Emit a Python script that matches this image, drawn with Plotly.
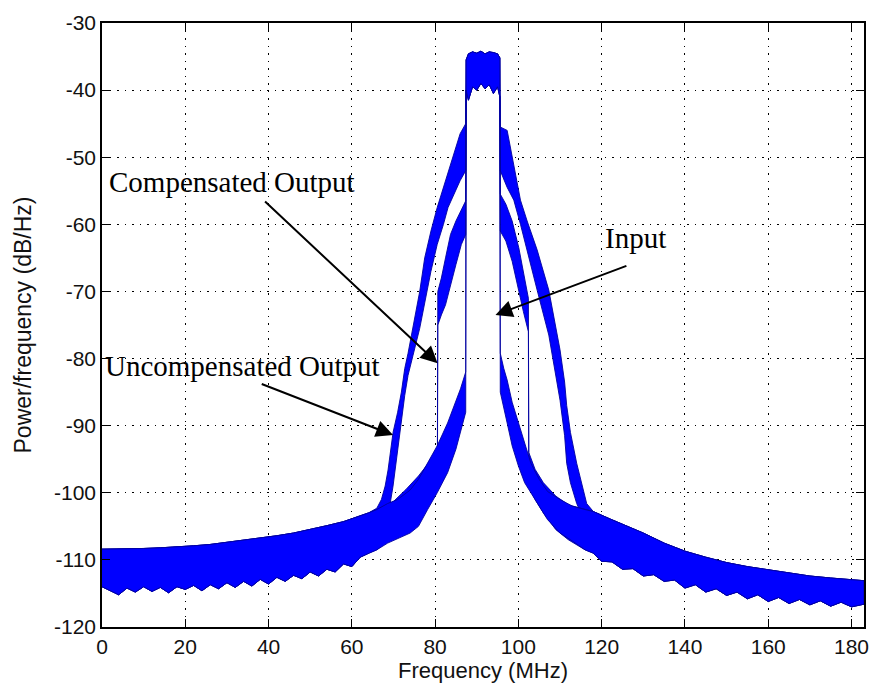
import plotly.graph_objects as go

# ---------------- data ----------------
# shared noise floor, left part: upper envelope (MHz, dB/Hz)
floor_left_f = [0, 3, 6, 10, 14, 18, 22, 26, 30, 34, 38, 42, 46, 50, 54, 58, 62]
floor_left_hi = [-108.4, -108.4, -108.4, -108.3, -108.2, -108.1, -107.9, -107.7, -107.4,
                 -107.1, -106.8, -106.4, -106.0, -105.5, -104.9, -104.3, -103.5]
# shared noise floor, left part: lower (noisy) envelope
floor_left_lo_f = [0, 2, 4, 6, 8, 10, 12, 14, 16, 18, 20, 22, 24, 26, 28, 30,
                   32, 34, 36, 38, 40, 42, 44, 46, 48, 50, 52, 54, 56, 58, 60, 62]
floor_left_lo = [-114.0, -114.6, -115.2, -114.2, -114.8, -114.0, -114.7, -114.1, -114.9, -114.0,
                 -114.4, -113.8, -114.6, -113.7, -114.3, -113.4, -114.1, -113.2, -113.9, -112.9,
                 -113.6, -112.6, -113.2, -112.3, -112.8, -111.8, -112.4, -111.4, -111.8, -110.6,
                 -111.0, -109.6]

# shared noise floor, right part
floor_right_f = [118, 122, 126, 130, 135, 140, 145, 150, 155, 160, 165, 170, 175, 180, 183]
floor_right_hi = [-102.8, -103.9, -105.0, -106.0, -107.5, -108.7, -109.6, -110.4, -111.0,
                  -111.5, -112.0, -112.4, -112.7, -113.0, -113.1]
floor_right_lo_f = [118, 120, 122.5, 125, 127.5, 130, 132.5, 135, 137.5, 140, 142.5, 145, 147.5,
                    150, 152.5, 155, 157.5, 160, 162.5, 165, 167.5, 170, 172.5, 175, 177.5, 180, 183]
floor_right_lo = [-109.0, -110.2, -110.3, -111.4, -111.3, -112.4, -112.2, -113.2, -113.0, -114.2,
                  -113.7, -114.8, -114.3, -115.3, -114.8, -115.8, -115.2, -116.2, -115.6, -116.5,
                  -115.9, -116.7, -116.1, -116.9, -116.3, -117.0, -116.6]

# shared in-band top
top_f = [87.45, 88.0, 89.0, 90.0, 91.0, 92.0, 93.0, 94.0, 95.0, 95.55]
top_hi = [-35.5, -34.6, -34.3, -34.5, -34.2, -34.6, -34.3, -34.4, -34.6, -35.2]
top_lo = [-40.0, -41.5, -39.5, -40.0, -39.0, -39.8, -39.2, -40.5, -39.5, -41.0]

# Input
in_left_f = [64, 66, 68.6, 71, 74, 76, 78.2, 80.5, 83, 85, 86.1, 87.35]
in_left_hi = [-103.0, -102.5, -101.6, -101.0, -99.6, -98.0, -95.6, -93.0, -89.6, -86.5, -84.5, -82.0]
in_left_lo = [-109.0, -108.5, -107.5, -106.8, -106.0, -105.0, -102.5, -100.0, -97.0, -93.5, -91.0, -88.0]
in_right_f = [95.65, 96.5, 97.3, 98.5, 100.0, 101.5, 103.0, 105.0, 107.0, 110.0, 113.0, 116.0]
in_right_hi = [-79.2, -81.5, -83.2, -86.5, -89.6, -92.8, -95.6, -98.0, -99.8, -101.0, -102.0, -102.5]
in_right_lo = [-85.0, -87.5, -89.6, -93.0, -96.0, -98.5, -100.0, -102.0, -104.0, -106.0, -107.2, -108.5]

# Compensated output
comp_left_f = [64, 66, 70, 73, 76, 78.5, 80.55, 80.65, 81.5, 82.5, 83.7, 85.0, 86.3, 87.35]
comp_left_hi = [-103.0, -102.5, -101.3, -99.5, -97.5, -95.5, -93.5, -70.0, -68.0, -65.0, -61.5, -59.5, -57.8, -56.5]
comp_left_lo = [-109.0, -108.5, -106.5, -105.0, -103.0, -101.0, -99.0, -75.0, -73.5, -72.0, -69.0, -66.0, -63.0, -61.5]
comp_right_f = [95.65, 97.0, 98.5, 100.1, 101.2, 102.4, 102.5, 104.0, 106.0, 109.0, 112.0, 116.0]
comp_right_hi = [-55.5, -57.0, -59.5, -63.5, -67.0, -71.0, -94.0, -96.5, -98.5, -100.5, -101.8, -102.5]
comp_right_lo = [-61.0, -62.5, -65.5, -69.8, -73.0, -76.0, -99.0, -101.0, -103.0, -105.5, -107.0, -108.5]

# Uncompensated output
unc_left_f = [64, 66, 67.1, 68.0, 68.7, 69.9, 71.0, 71.9, 72.7, 73.5, 74.7, 76.3, 77.5, 79.0,
              80.5, 82.0, 83.1, 84.5, 86.0, 87.35]
unc_left_hi = [-103.0, -102.3, -101.0, -99.0, -96.6, -91.0, -88.0, -85.0, -81.5, -79.2, -75.3,
               -70.0, -65.0, -61.0, -57.5, -54.5, -52.0, -49.5, -46.5, -45.0]
unc_left_lo = [-109.0, -108.0, -107.0, -105.5, -103.5, -99.0, -94.0, -89.5, -85.5, -82.5, -79.5,
               -75.5, -71.5, -67.0, -63.0, -60.0, -57.5, -55.5, -53.5, -52.0]
unc_right_f = [95.65, 97.3, 98.9, 100.5, 102.1, 104.5, 107.3, 110.0, 111.1, 111.6, 112.5, 114.0, 116.4]
unc_right_hi = [-45.5, -46.0, -51.4, -56.4, -59.5, -63.8, -69.8, -78.7, -83.5, -87.0, -91.0, -95.6, -101.6]
unc_right_lo = [-52.0, -54.5, -56.4, -60.0, -63.8, -69.8, -76.5, -86.2, -91.5, -95.6, -98.5, -101.6, -105.0]

x_ticks = [0, 20, 40, 60, 80, 100, 120, 140, 160, 180]
y_ticks = [-120, -110, -100, -90, -80, -70, -60, -50, -40, -30]

BLUE = "#0000ff"


def band(left_f, left_hi, left_lo, right_f, right_hi, right_lo):
    f_hi = floor_left_f + left_f + top_f + right_f + floor_right_f
    hi = floor_left_hi + left_hi + top_hi + right_hi + floor_right_hi
    f_lo = floor_left_lo_f + left_f + top_f + right_f + floor_right_lo_f
    lo = floor_left_lo + left_lo + top_lo + right_lo + floor_right_lo
    return f_hi + f_lo[::-1], hi + lo[::-1]


fig = go.Figure()
for name, parts in [
    ("Uncompensated Output", (unc_left_f, unc_left_hi, unc_left_lo, unc_right_f, unc_right_hi, unc_right_lo)),
    ("Compensated Output", (comp_left_f, comp_left_hi, comp_left_lo, comp_right_f, comp_right_hi, comp_right_lo)),
    ("Input", (in_left_f, in_left_hi, in_left_lo, in_right_f, in_right_hi, in_right_lo)),
]:
    xs, ys = band(*parts)
    fig.add_trace(go.Scatter(x=xs, y=ys, mode="lines", fill="toself", fillcolor=BLUE,
                             line=dict(color="#0000a0", width=0.9), name=name,
                             hoverinfo="skip"))

serif = "Liberation Serif, Times New Roman, serif"
labels = [
    ("Compensated Output", 1.3, -53.7, 80.6, -80.7, 38.8, -56.4),
    ("Uncompensated Output", 0.2, -81.1, 69.9, -91.4, 38.0, -83.7),
    ("Input", 120.4, -62.0, 94.5, -73.5, 126.3, -66.1),
]
for text, tx, ty, hx, hy, ax, ay in labels:
    fig.add_annotation(x=tx, y=ty, text=text, showarrow=False, xanchor="left", yanchor="middle",
                       font=dict(family=serif, size=29, color="black"))
    fig.add_annotation(x=hx, y=hy, ax=ax, ay=ay, axref="x", ayref="y", xref="x", yref="y",
                       text="", showarrow=True, arrowhead=2, arrowsize=1.7, arrowwidth=2,
                       arrowcolor="black", standoff=0)

tick_font = dict(family="Liberation Sans, Arial, sans-serif", size=21, color="#111")
title_font = dict(family="Liberation Sans, Arial, sans-serif", size=22, color="#111")
common = dict(showline=True, linecolor="black", linewidth=1.5, mirror="ticks",
              ticks="inside", ticklen=8, tickcolor="black", tickwidth=1.2,
              showgrid=True, gridcolor="black", gridwidth=1, griddash="1.5px,6px",
              zeroline=False, tickfont=tick_font)
fig.update_xaxes(range=[0, 183], tickvals=x_ticks, ticktext=[str(v) for v in x_ticks],
                 title=dict(text="Frequency (MHz)", font=title_font, standoff=0), **common)
fig.update_yaxes(range=[-120, -30], tickvals=y_ticks, ticktext=[str(v) for v in y_ticks],
                 title=dict(text="Power/frequency (dB/Hz)", font=dict(title_font, size=23),
                            standoff=16), **common)

fig.update_layout(width=877, height=690, margin=dict(l=102, r=8, t=23, b=63),
                  paper_bgcolor="white", plot_bgcolor="white", showlegend=False)

fig.write_html("out.html")
